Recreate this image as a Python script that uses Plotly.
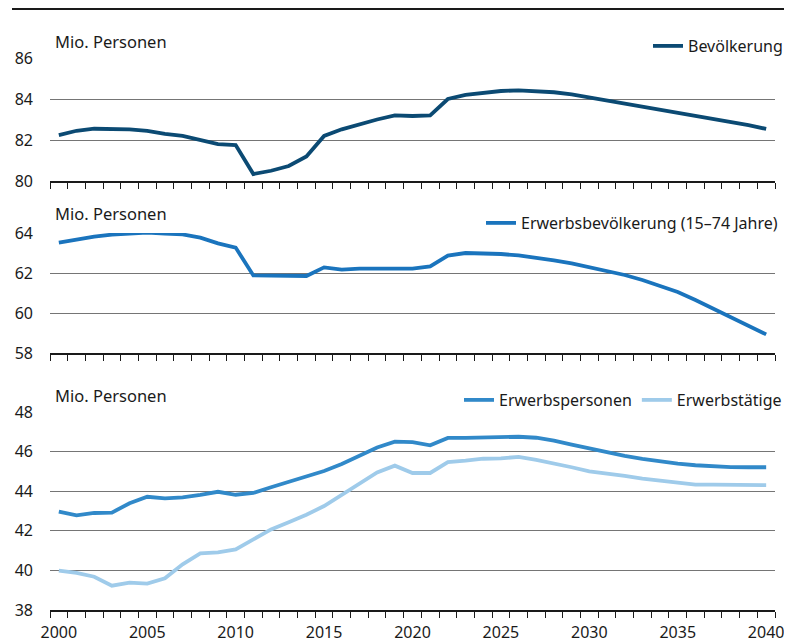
import plotly.graph_objects as go
from plotly.subplots import make_subplots

# Daten (Mio. Personen)
jahre = list(range(2000, 2041))

bevoelkerung = [82.24, 82.45, 82.55, 82.55, 82.52, 82.45, 82.30, 82.20, 82.00, 81.80,
                81.75, 80.34, 80.50, 80.73, 81.20, 82.20, 82.52, 82.78, 83.00, 83.20,
                83.17, 83.20, 84.00, 84.20, 84.30, 84.39, 84.42, 84.39, 84.33, 84.23,
                84.08, 83.93, 83.78, 83.64, 83.50, 83.35, 83.20, 83.04, 82.88, 82.72,
                82.54]

erwerbsbevoelkerung = [63.52, 63.68, 63.82, 63.92, 63.98, 64.02, 63.97, 63.93, 63.77, 63.48,
                       63.27, 61.88, 61.87, 61.85, 61.85, 62.28, 62.17, 62.22, 62.23, 62.20,
                       62.22, 62.33, 62.87, 63.00, 62.98, 62.95, 62.88, 62.77, 62.63, 62.48,
                       62.30, 62.12, 61.90, 61.65, 61.37, 61.05, 60.65, 60.23, 59.80, 59.37,
                       58.93]

erwerbspersonen = [42.97, 42.78, 42.90, 42.92, 43.39, 43.72, 43.64, 43.69, 43.81, 43.97,
                   43.82, 43.91, 44.20, 44.46, 44.73, 45.02, 45.37, 45.78, 46.21, 46.50,
                   46.48, 46.32, 46.69, 46.69, 46.72, 46.75, 46.75, 46.70, 46.55, 46.35,
                   46.15, 45.95, 45.78, 45.63, 45.49, 45.39, 45.31, 45.26, 45.22, 45.21,
                   45.21]

erwerbstaetige = [39.99, 39.88, 39.68, 39.23, 39.38, 39.33, 39.60, 40.31, 40.86, 40.91,
                  41.06, 41.57, 42.07, 42.43, 42.81, 43.25, 43.82, 44.43, 44.95, 45.29,
                  44.92, 44.92, 45.47, 45.54, 45.64, 45.66, 45.73, 45.58, 45.41, 45.21,
                  45.00, 44.90, 44.77, 44.63, 44.52, 44.41, 44.33, 44.33, 44.31, 44.31,
                  44.31]

# Die Seite hat 8px Rand, daher Figur um 8px kleiner und alles verschoben
OFF = 8
W, H = 792 - OFF, 643 - OFF
L, R = 50 - OFF, 792 - 775
FONT = "Noto Sans"
TXT = "#1a1a1a"
GRID = "#757575"


def py(pix):
    # Fensterpixel von oben -> Papierkoordinate
    return 1 - (pix - OFF) / H


def px_(pix):
    return (pix - OFF - L) / (W - L - R)


fig = make_subplots(rows=3, cols=1)

fig.add_trace(go.Scatter(x=jahre, y=bevoelkerung, name="Bevölkerung", mode="lines",
                         line=dict(color="#0b4a73", width=3.8), legend="legend"), row=1, col=1)
fig.add_trace(go.Scatter(x=jahre, y=erwerbsbevoelkerung, name="Erwerbsbevölkerung (15–74 Jahre)",
                         mode="lines", line=dict(color="#1a74bd", width=3.8), legend="legend2"),
              row=2, col=1)
fig.add_trace(go.Scatter(x=jahre, y=erwerbspersonen, name="Erwerbspersonen", mode="lines",
                         line=dict(color="#3189c9", width=3.8), legend="legend3"), row=3, col=1)
fig.add_trace(go.Scatter(x=jahre, y=erwerbstaetige, name="Erwerbstätige", mode="lines",
                         line=dict(color="#9fcbea", width=3.8), legend="legend3"), row=3, col=1)

# Panel-Geometrie (Pixel oben/unten) und Achsenbereiche
panels = [(58, 181, [80, 86]), (233, 353, [58, 64]), (412, 610, [38, 48])]
for i, (top, bottom, rng) in enumerate(panels, start=1):
    fig.update_yaxes(domain=[py(bottom), py(top)], range=rng, dtick=2,
                     showgrid=True, gridcolor=GRID, gridwidth=1, zeroline=False,
                     showline=False, ticks="", ticklabelstandoff=16, automargin=False,
                     tickfont=dict(size=16, color=TXT), row=i, col=1)
    fig.update_xaxes(domain=[0, 1], range=[1999.5, 2040.5], tickmode="linear", tick0=2000,
                     dtick=5, ticks="", showgrid=False, zeroline=False, automargin=False,
                     showline=True, linecolor="#1a1a1a", linewidth=1.5,
                     minor=dict(ticks="outside", tick0=1999.5, dtick=1, ticklen=6,
                                tickcolor="#1a1a1a", tickwidth=1, showgrid=False),
                     showticklabels=(i == 3), ticklabelstandoff=7,
                     tickfont=dict(size=16, color=TXT), row=i, col=1)

# Einheiten über den Panels
for ypix in [42, 213, 395]:
    fig.add_annotation(text="Mio. Personen", xref="paper", yref="paper",
                       x=px_(53), y=py(ypix), xanchor="left", yanchor="middle",
                       showarrow=False, font=dict(size=16.5, color=TXT, family=FONT))

# Linie ganz oben (so weit oben, wie die Seite es zulässt)
fig.add_shape(type="line", xref="paper", yref="paper", x0=px_(12), x1=px_(800),
              y0=py(9), y1=py(9), line=dict(color="#1a1a1a", width=2))

leg = dict(bgcolor="white", borderwidth=0, font=dict(size=16, color=TXT, family=FONT),
           orientation="h", xanchor="left", yanchor="bottom", itemwidth=30)

fig.update_layout(
    width=W, height=H,
    margin=dict(l=L, r=R, t=0, b=0, autoexpand=False),
    paper_bgcolor="white", plot_bgcolor="white",
    font=dict(family=FONT, size=16, color=TXT),
    showlegend=True,
    legend=dict(leg, x=px_(648), y=py(63)),
    legend2=dict(leg, x=px_(481), y=py(240)),
    legend3=dict(leg, x=px_(459), y=py(417)),
)

fig.write_html("out.html")
